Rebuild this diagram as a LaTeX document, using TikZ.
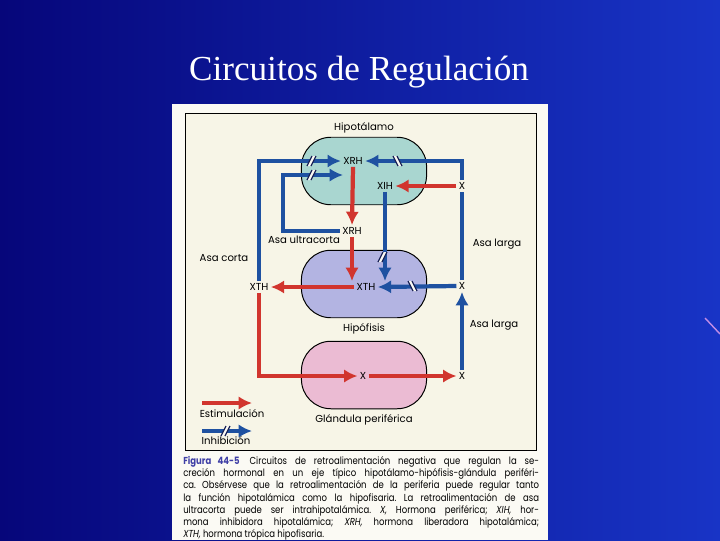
\documentclass[tikz,border=0pt]{standalone}
\usepackage{fontspec}
\setmainfont{Liberation Serif}
\newfontfamily\figfont{Poppins}
\newfontfamily\capfont[FakeStretch=0.84]{Poppins}
\usetikzlibrary{positioning, arrows.meta}

\definecolor{slidedark}{HTML}{06067A}
\definecolor{slidelight}{HTML}{1834C6}
\definecolor{paper}{HTML}{FBFAF4}
\definecolor{boxfill}{HTML}{F7F5E7}
\definecolor{thalfill}{HTML}{A9D6D0}
\definecolor{pitfill}{HTML}{B3B4E2}
\definecolor{glandfill}{HTML}{EBBBD3}
\definecolor{stimred}{HTML}{D1352E}
\definecolor{inhblue}{HTML}{1E51A1}
\definecolor{markdark}{HTML}{1B2458}
\definecolor{figblue}{HTML}{3F3FA6}
\definecolor{streak}{HTML}{C08CE6}

\begin{document}
\begin{tikzpicture}[x=0.025cm, y=-0.025cm,
        organ/.style={draw, line width=0.7pt, rounded corners=21pt, minimum width=89pt, minimum height=48pt},
        lbl/.style={font=\figfont\fontsize{7.2}{8}\selectfont, inner sep=1.5pt},
        stim/.style={draw=stimred, line width=3pt, -{Latex[length=9.5pt,width=9.5pt]}},
        inhb/.style={draw=inhblue, line width=3pt, -{Latex[length=9.5pt,width=9.5pt]}},
        slash/.pic={
            \fill[paper] (-5,5) -- (0,-5) -- (4,-5) -- (-1,5) -- cycle;
            \draw[markdark, line width=0.9pt] (-5,5) -- (0,-5) (-1,5) -- (4,-5);
        }]

    % Fondo de la diapositiva
    \useasboundingbox (0,0) rectangle (720,540);
    \shade[left color=slidedark, right color=slidelight] (0,0) rectangle (720,540);
    \draw[streak, line width=1pt] (705,318) -- (720,334);
    \node (title) [anchor=base, text=white, font=\fontsize{25}{30}\selectfont] at (359,80) {Circuitos de Regulación};

    % Figura
    \fill[paper] (172,104) rectangle (548,540);
    \draw[fill=boxfill, line width=0.6pt] (185,113) rectangle (536,450);

    % Glándulas
    \node (hyp) [organ, fill=thalfill] at (364,171) {};
    \node (pit) [organ, fill=pitfill] at (364,284) {};
    \node (glnd) [organ, fill=glandfill] at (364,375) {};
    \node (thalname) [lbl, above=1pt of hyp] {Hipotálamo};
    \node (pitname) [lbl, below=2pt of pit] {Hipófisis};
    \node (glname) [lbl, below=2pt of glnd] {Glándula periférica};

    % Hormonas
    \node (xrhA) [lbl] at (353,161) {XRH};
    \node (xih) [lbl] at (385,186) {XIH};
    \node (xA) [lbl] at (462,186) {X};
    \node (xrhB) [lbl] at (352,231) {XRH};
    \node (xthL) [lbl] at (259,287) {XTH};
    \node (xthC) [lbl] at (366,287) {XTH};
    \node (xB) [lbl] at (462,286) {X};
    \node (xC) [lbl] at (363,376) {X};
    \node (xD) [lbl] at (462,376) {X};

    % Asas
    \node (ultra) [lbl] at (304,240) {Asa ultracorta};
    \node (largaA) [lbl] at (497,244) {Asa larga};
    \node (corta) [lbl] at (224,258) {Asa corta};
    \node (largaB) [lbl] at (494,325) {Asa larga};
    \coordinate (ultraend) at (343,175);

    % Estimulación
    \draw[stim] (xrhA.south) -- (xrhB.north);
    \draw[stim] (xrhB.south) -- (xrhB.south |- xthC.north);
    \draw[stim] (xA.west) -- (xih.east);
    \draw[stim] (xthC.west) -- (xthL.east);
    \draw[stim] (xthL.south) |- (xC.west);
    \draw[stim] (xC.east) -- (xD.west);

    % Inhibición
    \draw[inhb] (xthL.north) |- (xrhA.west);
    \draw[inhb] (xrhB.west) -- ++(-57,0) |- (ultraend);
    \draw[draw=inhblue, line width=3pt] (xB.north) -- (xA.south);
    \draw[inhb] (xA.north) |- (xrhA.east);
    \draw[inhb] (xih.south) -- (xih.south |- xthC.north);
    \draw[inhb] (xB.west) -- (xthC.east);
    \draw[inhb] (xD.north) -- (xB.south);
    \pic at (312,161) {slash};
    \pic at (312,175) {slash};
    \pic[xscale=-1] at (397,161) {slash};
    \pic at (383,257) {slash};
    \pic[xscale=-1] at (412,286) {slash};

    % Leyenda
    \coordinate (stimA) at (202,403);
    \coordinate (stimB) at (252,403);
    \coordinate (inhA) at (202,431);
    \coordinate (inhB) at (252,431);
    \draw[stim] (stimA) -- (stimB);
    \draw[inhb] (inhA) -- (inhB);
    \pic at (226,431) {slash};
    \node (stimtxt) [lbl] at (232,414) {Estimulación};
    \node (inhtxt) [lbl] at (226,441) {Inhibición};

    % Pie de figura
    \node (caption) [anchor=north west, inner sep=0pt, text width=253pt, align=justify,
        font=\capfont\fontsize{7.2}{8.7}\selectfont] at (183,456) {\frenchspacing
        {\color{figblue}\bfseries Figura 44-5}\hspace{1em}Circuitos de retroalimentación negativa que regulan la se-\linebreak
        creción hormonal en un eje típico hipotálamo-hipófisis-glándula periféri-\linebreak
        ca. Obsérvese que la retroalimentación de la periferia puede regular tanto\linebreak
        la función hipotalámica como la hipofisaria. La retroalimentación de asa\linebreak
        ultracorta puede ser intrahipotalámica. \textit{X,} Hormona periférica; \textit{XIH,} hor-\linebreak
        mona inhibidora hipotalámica; \textit{XRH,} hormona liberadora hipotalámica;\linebreak
        \textit{XTH,} hormona trópica hipofisaria.};

\end{tikzpicture}
\end{document}
